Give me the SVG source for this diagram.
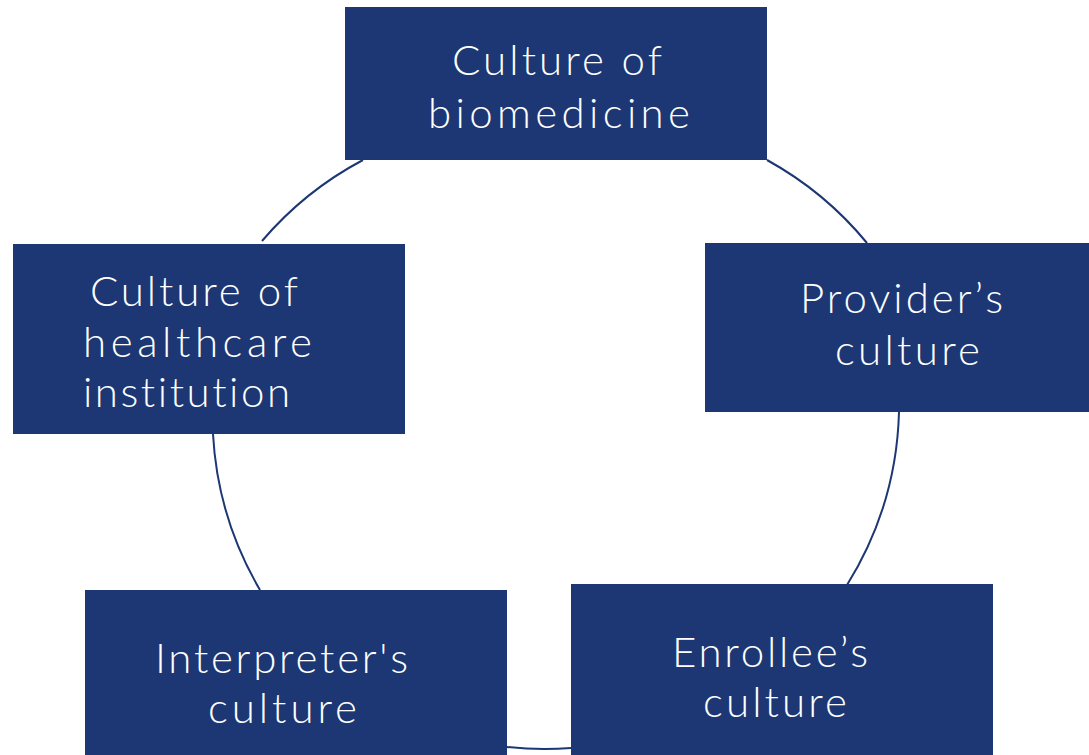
<svg xmlns="http://www.w3.org/2000/svg" width="1089" height="755" viewBox="0 0 1089 755">
<style>
.box{fill:#1c3773;}
.lbl{font-family:Lato,"Open Sans","Liberation Sans",sans-serif;font-weight:300;font-size:42px;fill:#ffffff;font-variant-ligatures:none;}
.arc{fill:none;stroke:#1c3773;stroke-width:2;}
</style>
<rect width="1089" height="755" fill="#ffffff"/>
<g id="connectors">
<path class="arc" d="M767,160 A345,345 0 0 1 867,243"/>
<path class="arc" d="M899,412 A345,345 0 0 1 847,585"/>
<path class="arc" d="M571,748 A345,345 0 0 1 507,747"/>
<path class="arc" d="M260,590 A345,345 0 0 1 213,434"/>
<path class="arc" d="M262,241 A345,345 0 0 1 363,160"/>
</g>
<g id="biomedicine">
<rect class="box" x="345" y="7" width="422" height="153"/>
<text class="lbl" x="452" y="75" textLength="210" lengthAdjust="spacing">Culture of</text>
<text class="lbl" x="428" y="128" textLength="262" lengthAdjust="spacing">biomedicine</text>
</g>
<g id="provider">
<rect class="box" x="705" y="243" width="384" height="169"/>
<text class="lbl" x="800" y="313" textLength="203" lengthAdjust="spacing">Provider’s</text>
<text class="lbl" x="835" y="365" textLength="145" lengthAdjust="spacing">culture</text>
</g>
<g id="enrollee">
<rect class="box" x="571" y="584" width="422" height="171"/>
<text class="lbl" x="672" y="667" textLength="196" lengthAdjust="spacing">Enrollee’s</text>
<text class="lbl" x="703" y="717" textLength="144" lengthAdjust="spacing">culture</text>
</g>
<g id="interpreter">
<rect class="box" x="85" y="590" width="422" height="165"/>
<text class="lbl" x="155" y="673" textLength="253" lengthAdjust="spacing">Interpreter's</text>
<text class="lbl" x="208" y="723" textLength="149" lengthAdjust="spacing">culture</text>
</g>
<g id="institution">
<rect class="box" x="13" y="244" width="392" height="190"/>
<text class="lbl" x="90" y="306" textLength="208" lengthAdjust="spacing">Culture of</text>
<text class="lbl" x="83" y="357" textLength="229" lengthAdjust="spacing">healthcare</text>
<text class="lbl" x="83" y="407" textLength="207" lengthAdjust="spacing">institution</text>
</g>
</svg>
